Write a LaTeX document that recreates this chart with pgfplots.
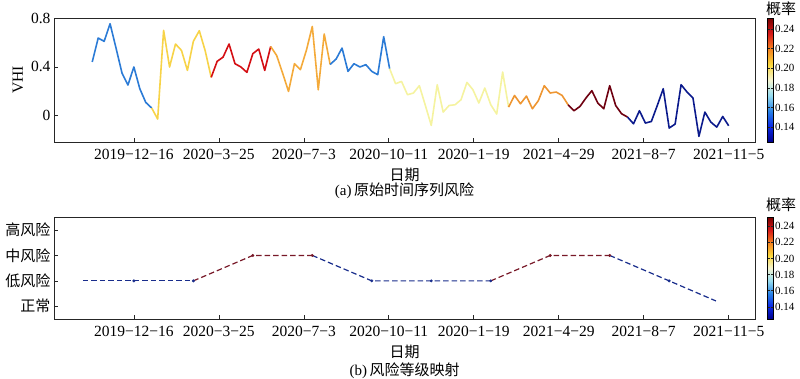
\documentclass[border=0pt]{standalone}
\usepackage{pgfplots}
\pgfplotsset{compat=1.18}
\usepackage{fontspec}
\setmainfont{Liberation Serif}
\newfontfamily\cjk{Noto Sans CJK SC}
\definecolor{cA}{RGB}{43,123,214}
\definecolor{cB}{RGB}{247,211,72}
\definecolor{cC}{RGB}{212,15,20}
\definecolor{cD}{RGB}{244,170,58}
\definecolor{cE}{RGB}{245,243,160}
\definecolor{cF}{RGB}{238,150,50}
\definecolor{cG}{RGB}{110,0,16}
\definecolor{cH}{RGB}{11,26,140}
\definecolor{lb}{RGB}{25,45,140}
\definecolor{lr}{RGB}{120,25,40}
\pgfplotsset{
  common/.style={
    scale only axis, width=701pt,
    xmin=-94, xmax=731,
    xtick={0,100,200,300,400,500,600,700},
    xticklabels={2019−12−16,2020−3−25,2020−7−3,2020−10−11,2020−1−19,2021−4−29,2021−8−7,2021−11−5},
    tick align=inside, xtick pos=bottom, ytick pos=left,
    major tick length=4pt,
    axis line style={line width=0.8pt, black!85},
    tick style={black!85, line width=0.6pt},
    tick label style={font=\fontsize{15.5}{18}\selectfont},
    xticklabel style={yshift=-3.5pt},
    /pgf/number format/assume math mode=true,
    colormap={risk}{rgb255=(0,0,140) rgb255=(10,40,230) rgb255=(40,130,230) rgb255=(150,220,240) rgb255=(245,245,210) rgb255=(250,215,60) rgb255=(245,130,30) rgb255=(215,25,25) rgb255=(120,0,0)},
    colorbar,
    point meta min=0.125, point meta max=0.251,
    colorbar style={at={(parent axis.north east)}, anchor=north west, xshift=4pt, width=5.5pt,
      ytick={0.14,0.16,0.18,0.20,0.22,0.24},
      yticklabels={0.14,0.16,0.18,0.20,0.22,0.24},
      tick align=inside,
      axis line style={line width=0.5pt},
      major tick length=2pt,
      yticklabel style={font=\fontsize{11}{13}\selectfont, xshift=-1.5pt}},
  },
  toplines/.style={line width=1.6pt, line join=round},
  botlines/.style={line width=1.2pt, dash pattern=on 5.5pt off 3pt},
}
\begin{document}
\begin{tikzpicture}
\useasboundingbox (0,0) rectangle (800pt,378pt);
\begin{axis}[common, at={(54pt,236pt)}, anchor=south west, height=124pt,
  ymin=-0.215, ymax=0.8, ytick={0,0.4,0.8},
  ylabel={VHI}, ylabel style={font=\fontsize{15.5}{18}\selectfont, at={(axis description cs:-0.0514,0.5)}, anchor=center},
  xlabel={\cjk 日期}, xlabel style={font=\fontsize{15}{18}\selectfont, at={(axis description cs:0.5,-0.262)}, anchor=center}]
\addplot[cA, toplines] coordinates {(-49,0.44)(-42,0.636)(-35,0.609)(-28,0.753)(-21,0.554)(-14,0.35)(-7,0.251)(0,0.399)(7,0.221)(14,0.109)(21,0.063)};
\addplot[cB, toplines] coordinates {(21,0.063)(28,-0.027)(35,0.699)(42,0.399)(49,0.587)(56,0.535)(63,0.371)(70,0.609)(77,0.696)(84,0.53)(91,0.314)};
\addplot[cC, toplines] coordinates {(91,0.314)(98,0.445)(105,0.48)(112,0.587)(119,0.426)(126,0.399)(133,0.355)(140,0.508)(147,0.546)(154,0.371)(161,0.567)};
\addplot[cD, toplines] coordinates {(161,0.567)(168,0.494)(175,0.35)(182,0.199)(189,0.426)(196,0.377)(203,0.535)(210,0.731)(217,0.213)(224,0.669)(231,0.42)};
\addplot[cA, toplines] coordinates {(231,0.42)(238,0.464)(245,0.554)(252,0.363)(259,0.426)(266,0.399)(273,0.418)(280,0.363)(287,0.336)(294,0.647)(301,0.385)};
\addplot[cE, toplines] coordinates {(301,0.385)(308,0.262)(315,0.281)(322,0.172)(329,0.186)(336,0.246)(343,0.085)(350,-0.079)(357,0.254)(364,0.030)(371,0.084)(378,0.090)(385,0.131)(392,0.273)(399,0.213)(406,0.104)(413,0.227)(420,0.090)(427,0.014)(434,0.358)(441,0.071)};
\addplot[cF, toplines] coordinates {(441,0.071)(448,0.166)(455,0.098)(462,0.161)(469,0.057)(476,0.123)(483,0.246)(490,0.186)(497,0.194)(504,0.166)(511,0.090)};
\addplot[cG, toplines] coordinates {(511,0.090)(518,0.041)(525,0.076)(532,0.145)(539,0.205)(546,0.104)(553,0.057)(560,0.246)(567,0.084)(574,0.016)(581,-0.011)};
\addplot[cH, toplines] coordinates {(581,-0.011)(588,-0.066)(595,0.041)(602,-0.060)(609,-0.047)(616,0.084)(623,0.221)(630,-0.101)(637,-0.068)(644,0.254)(651,0.194)(658,0.145)(665,-0.169)(672,0.030)(679,-0.052)(686,-0.093)(693,-0.006)(700,-0.082)};
\end{axis}
\begin{axis}[common, at={(54pt,59pt)}, anchor=south west, height=101.7pt,
  ymin=-0.5, ymax=3.5, ytick={0,1,2,3},
  yticklabels={正常,低风险,中风险,高风险},
  yticklabel style={font=\cjk\fontsize{15}{18}\selectfont},
  xlabel={\cjk 日期}, xlabel style={font=\fontsize{15}{18}\selectfont, at={(axis description cs:0.5,-0.32)}, anchor=center}]
\addplot[lb, botlines] coordinates {(-60,1)(0,1)(70,1)};
\addplot[lr, botlines] coordinates {(70,1)(140,2)(210,2)};
\addplot[lb, botlines] coordinates {(210,2)(280,1)(350,1)(420,1)};
\addplot[lr, botlines] coordinates {(420,1)(490,2)(560,2)};
\addplot[lb, botlines] coordinates {(560,2)(630,1)(685,0.21)};
\addplot[lb, only marks, mark=*, mark size=1.3pt] coordinates {(0,1)(70,1)(280,1)(350,1)(420,1)(630,1)};
\addplot[lr, only marks, mark=*, mark size=1.3pt] coordinates {(140,2)(210,2)(490,2)(560,2)};
\end{axis}
\node[font=\fontsize{15}{18}\selectfont] at (404.5pt,187pt) {(a)\,{\cjk 原始时间序列风险}};
\node[font=\fontsize{15}{18}\selectfont] at (404.5pt,7pt) {(b)\,{\cjk 风险等级映射}};
\node[font=\cjk\fontsize{15}{18}\selectfont] at (781pt,369pt) {概率};
\node[font=\cjk\fontsize{15}{18}\selectfont] at (781pt,173pt) {概率};
\end{tikzpicture}
\end{document}
